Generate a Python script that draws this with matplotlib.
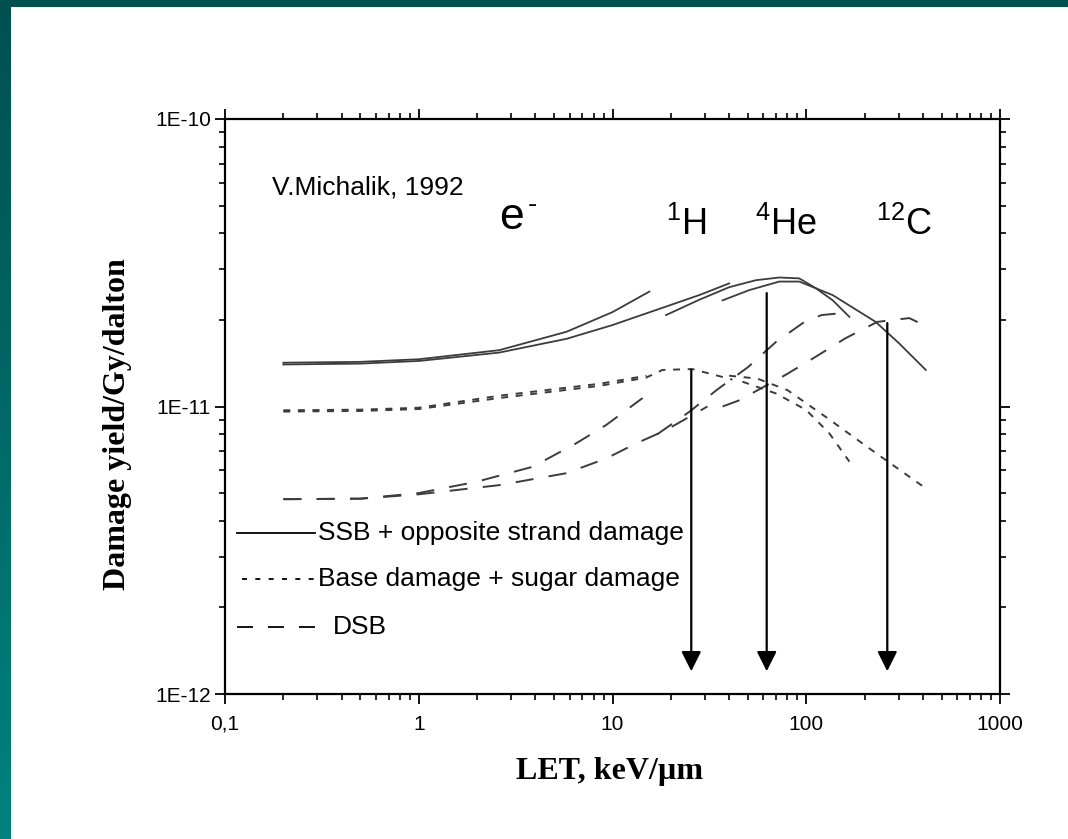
import matplotlib
matplotlib.use('Agg')
import matplotlib.pyplot as plt
import numpy as np
from matplotlib.lines import Line2D
from matplotlib.ticker import FixedLocator, FixedFormatter, NullFormatter, LogLocator

plt.rcParams['font.family'] = ['Liberation Sans', 'DejaVu Sans']
plt.rcParams['mathtext.fontset'] = 'custom'
plt.rcParams['mathtext.rm'] = 'Liberation Sans'
plt.rcParams['lines.scale_dashes'] = False

# ---------------- data ----------------
# SSB + opposite strand damage (solid)
ssb_e_x = [0.2, 0.5, 1, 2.6, 5.8, 10, 15.5]
ssb_e_y = [1.42e-11, 1.43e-11, 1.46e-11, 1.57e-11, 1.82e-11, 2.13e-11, 2.51e-11]
ssb_p_x = [0.2, 0.5, 1, 2.6, 5.8, 10, 28, 40]
ssb_p_y = [1.40e-11, 1.41e-11, 1.44e-11, 1.54e-11, 1.72e-11, 1.92e-11, 2.44e-11, 2.68e-11]
ssb_he_x = [18.9, 28, 40, 55, 72.6, 92, 112, 137, 167]
ssb_he_y = [2.08e-11, 2.35e-11, 2.6e-11, 2.75e-11, 2.81e-11, 2.79e-11, 2.58e-11, 2.34e-11, 2.05e-11]
ssb_c_x = [37, 50.8, 72.6, 92, 137, 228, 301, 414]
ssb_c_y = [2.34e-11, 2.54e-11, 2.72e-11, 2.72e-11, 2.44e-11, 1.97e-11, 1.66e-11, 1.34e-11]

# Base damage + sugar damage (short dashes)
base_e_x = [0.2, 0.5, 1, 2.6, 8.6, 15]
base_e_y = [9.7e-12, 9.75e-12, 9.9e-12, 1.09e-11, 1.20e-11, 1.28e-11]
base_p_x = [0.2, 0.5, 1, 2.6, 8.6, 14.9, 18.1, 25.8, 41.6]
base_p_y = [9.6e-12, 9.65e-12, 9.8e-12, 1.07e-11, 1.18e-11, 1.26e-11, 1.34e-11, 1.35e-11, 1.24e-11]
base_he_x = [46.8, 69.8, 99.8, 131.5, 167]
base_he_y = [1.22e-11, 1.11e-11, 9.73e-12, 8.07e-12, 6.43e-12]
base_c_x = [40, 56, 80, 129, 211, 414]
base_c_y = [1.28e-11, 1.25e-11, 1.14e-11, 9.1e-12, 7.16e-12, 5.19e-12]

# DSB (long dashes)
dsb_e_x = [0.2, 0.5, 1, 1.98, 3.87, 6.5, 9.29, 14.3]
dsb_e_y = [4.76e-12, 4.78e-12, 5.0e-12, 5.47e-12, 6.17e-12, 7.45e-12, 8.63e-12, 1.07e-11]
dsb_p_x = [0.2, 0.5, 1, 2.62, 5.77, 9.29, 13.3, 18.9, 30.9]
dsb_p_y = [4.76e-12, 4.78e-12, 4.95e-12, 5.33e-12, 5.86e-12, 6.6e-12, 7.45e-12, 8.28e-12, 1.0e-11]
dsb_he_x = [17, 25, 35, 50, 70, 98, 120, 150, 167]
dsb_he_y = [8.0e-12, 9.6e-12, 1.15e-11, 1.37e-11, 1.68e-11, 1.97e-11, 2.08e-11, 2.11e-11, 2.05e-11]
dsb_c_x = [37, 45, 78.5, 112, 160, 233, 340, 405]
dsb_c_y = [1.0e-11, 1.05e-11, 1.29e-11, 1.49e-11, 1.73e-11, 1.97e-11, 2.03e-11, 1.92e-11]

# arrows: LET position, start value, end value
arrow_x = [25.5, 62.5, 262]
arrow_y0 = [1.34e-11, 2.48e-11, 1.95e-11]
arrow_y1 = [1.2e-12, 1.2e-12, 1.2e-12]

x_ticks = [0.1, 1, 10, 100, 1000]
x_ticklabels = ['0,1', '1', '10', '100', '1000']
y_ticks = [1e-12, 1e-11, 1e-10]
y_ticklabels = ['1E-12', '1E-11', '1E-10']

legend_labels = ['SSB + opposite strand damage', 'Base damage + sugar damage', 'DSB']
particles = ['$^{1}$H', '$^{4}$He', '$^{12}$C']

# ---------------- figure ----------------
W, H = 1068, 839
fig = plt.figure(figsize=(W / 100, H / 100), dpi=100)
fig.patch.set_facecolor('white')

def fx(px):
    return px / W

def fy(py):
    return 1 - py / H

# teal frame
grad = np.linspace(0, 1, 256).reshape(-1, 1)
top_c = np.array([0, 80, 80]) / 255
bot_c = np.array([0, 130, 126]) / 255
img = top_c[None, None, :] * (1 - grad[:, :, None]) + bot_c[None, None, :] * grad[:, :, None]
bax = fig.add_axes([0, 0, fx(11), 1])
bax.imshow(img, aspect='auto', extent=[0, 1, 1, 0])
bax.axis('off')
tax = fig.add_axes([0, fy(7), 1, 7 / H])
tax.set_facecolor((0, 80 / 255, 80 / 255))
tax.set_xticks([]); tax.set_yticks([])
for s in tax.spines.values():
    s.set_visible(False)

ax = fig.add_axes([fx(225), fy(694), fx(1000) - fx(225), fy(119) - fy(694)])
ax.set_xscale('log')
ax.set_yscale('log')
ax.set_xlim(0.1, 1000)
ax.set_ylim(1e-12, 1e-10)

line_c = '#3c3c3c'
solid = dict(color=line_c, lw=1.3, ls='-')
dotted = dict(color=line_c, lw=1.4, ls=(0, (5, 5.5)))
dashed = dict(color=line_c, lw=1.4, ls=(0, (13, 11)))

for xs, ys in [(ssb_e_x, ssb_e_y), (ssb_p_x, ssb_p_y), (ssb_he_x, ssb_he_y), (ssb_c_x, ssb_c_y)]:
    ax.plot(xs, ys, **solid)
for xs, ys in [(base_e_x, base_e_y), (base_p_x, base_p_y), (base_he_x, base_he_y), (base_c_x, base_c_y)]:
    ax.plot(xs, ys, **dotted)
for xs, ys in [(dsb_e_x, dsb_e_y), (dsb_p_x, dsb_p_y), (dsb_he_x, dsb_he_y), (dsb_c_x, dsb_c_y)]:
    ax.plot(xs, ys, **dashed)

for x, y0, y1 in zip(arrow_x, arrow_y0, arrow_y1):
    ax.annotate('', xy=(x, y1), xytext=(x, y0),
                arrowprops=dict(arrowstyle='-|>', color='black', lw=1.6,
                                mutation_scale=30, shrinkA=0, shrinkB=0))

# axes styling
for s in ax.spines.values():
    s.set_linewidth(1.6)
ax.xaxis.set_major_locator(FixedLocator(x_ticks))
ax.xaxis.set_major_formatter(FixedFormatter(x_ticklabels))
ax.yaxis.set_major_locator(FixedLocator(y_ticks))
ax.yaxis.set_major_formatter(FixedFormatter(y_ticklabels))
ax.xaxis.set_minor_locator(LogLocator(base=10, subs=np.arange(2, 10), numticks=20))
ax.yaxis.set_minor_locator(LogLocator(base=10, subs=np.arange(2, 10), numticks=20))
ax.xaxis.set_minor_formatter(NullFormatter())
ax.yaxis.set_minor_formatter(NullFormatter())
ax.tick_params(which='both', top=True, right=True, direction='out', labelsize=15, colors='black')
ax.tick_params(which='major', length=7.5, width=1.3)
ax.tick_params(which='minor', length=4.3, width=1.2)
ax.tick_params(axis='x', which='major', pad=7.5)
ax.tick_params(axis='y', which='major', pad=2.5)

# texts
fig.text(fx(272), fy(195), 'V.Michalik, 1992', fontsize=19, va='baseline', ha='left')
fig.text(fx(499), fy(229), 'e', fontsize=32, va='baseline', ha='left')
fig.text(fx(528), fy(212), '-', fontsize=20, va='baseline', ha='left')
fig.text(fx(666), fy(235), particles[0], fontsize=26, va='baseline', ha='left')
fig.text(fx(755), fy(235), particles[1], fontsize=26, va='baseline', ha='left')
fig.text(fx(876), fy(235), particles[2], fontsize=26, va='baseline', ha='left')

# legend (manual)
leg_y = [533, 579, 627]
leg_ls = ['-', (0, (3.6, 6.0)), (0, (11.5, 10.8))]
leg_x0 = [237, 242, 237]
leg_tx = [318, 318, 333]
for yy, ls, x0, tx, lab in zip(leg_y, leg_ls, leg_x0, leg_tx, legend_labels):
    fig.add_artist(Line2D([fx(x0), fx(315)], [fy(yy), fy(yy)], transform=fig.transFigure,
                          color='black', lw=1.3, ls=ls))
    fig.text(fx(tx), fy(yy), lab, fontsize=19, va='center', ha='left')

fig.text(fx(609), fy(772), 'LET, keV/µm', fontsize=23, fontweight='bold',
         family=['Liberation Serif'], ha='center', va='center')
fig.text(fx(117), fy(424), 'Damage yield/Gy/dalton', fontsize=23, fontweight='bold',
         family=['Liberation Serif'], ha='center', va='center', rotation=90)

fig.savefig('out.png', dpi=100, facecolor='white')
